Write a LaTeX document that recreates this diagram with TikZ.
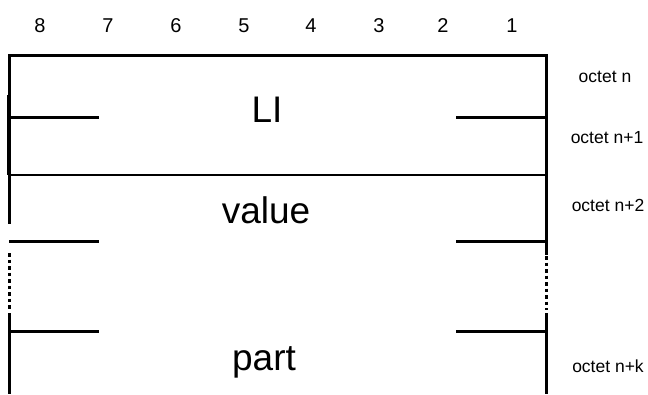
\documentclass[tikz,border=0pt]{standalone}
\usepackage{fontspec}
\setmainfont{Liberation Sans}

\begin{document}
\begin{tikzpicture}[
    x=1pt, y=-1pt,
    frame/.style={draw, line width=3pt},
    rule/.style={draw, line width=2.5pt},
    stub/.style={draw, line width=3pt},
    gap/.style={draw, line width=3pt, dash pattern=on 3.5pt off 3pt},
    bitno/.style={anchor=base, font=\fontsize{20}{22}\selectfont},
    field/.style={anchor=base, font=\fontsize{37}{40}\selectfont},
    octet/.style={anchor=base, font=\fontsize{17.5}{19}\selectfont}
]

\useasboundingbox (0,0) rectangle (648,394);

% bit numbers
\foreach \b/\x in {8/40,7/108,6/176,5/244,4/311,3/379,2/443,1/512}
    \node[bitno] (bit\b) at (\x,32) {\b};

% corners of the frame
\coordinate (tl) at (9,55);
\coordinate (tr) at (546,55);

% outer frame
\draw[frame, line cap=rect] (9,222) -- (tl) -- (tr) -- (546,253);
\draw[line width=4pt] (9,95) -- (9,175);
\draw[rule] (9,175) -- (546,175);

% octet stubs
\foreach \y in {117,241,331} {
    \draw[stub] (9,\y) -- (99,\y);
    \draw[stub] (456,\y) -- (546,\y);
}

% dotted gap and lower part
\draw[gap] (9,253) -- (9,309);
\draw[gap] (546,256) -- (546,310);
\draw[frame] (9,313) -- (9,394);
\draw[frame] (546,313) -- (546,394);

% field names
\node[field] (li) at (267,122) {LI};
\node[field] (value) at (266,223) {value};
\node[field] (part) at (264,370) {part};

% octet labels
\node[octet] (oct0) at (605,82) {octet n};
\node[octet] (oct1) at (607,143) {octet n+1};
\node[octet] (oct2) at (608,211) {octet n+2};
\node[octet] (octk) at (608,372) {octet n+k};

\end{tikzpicture}
\end{document}
